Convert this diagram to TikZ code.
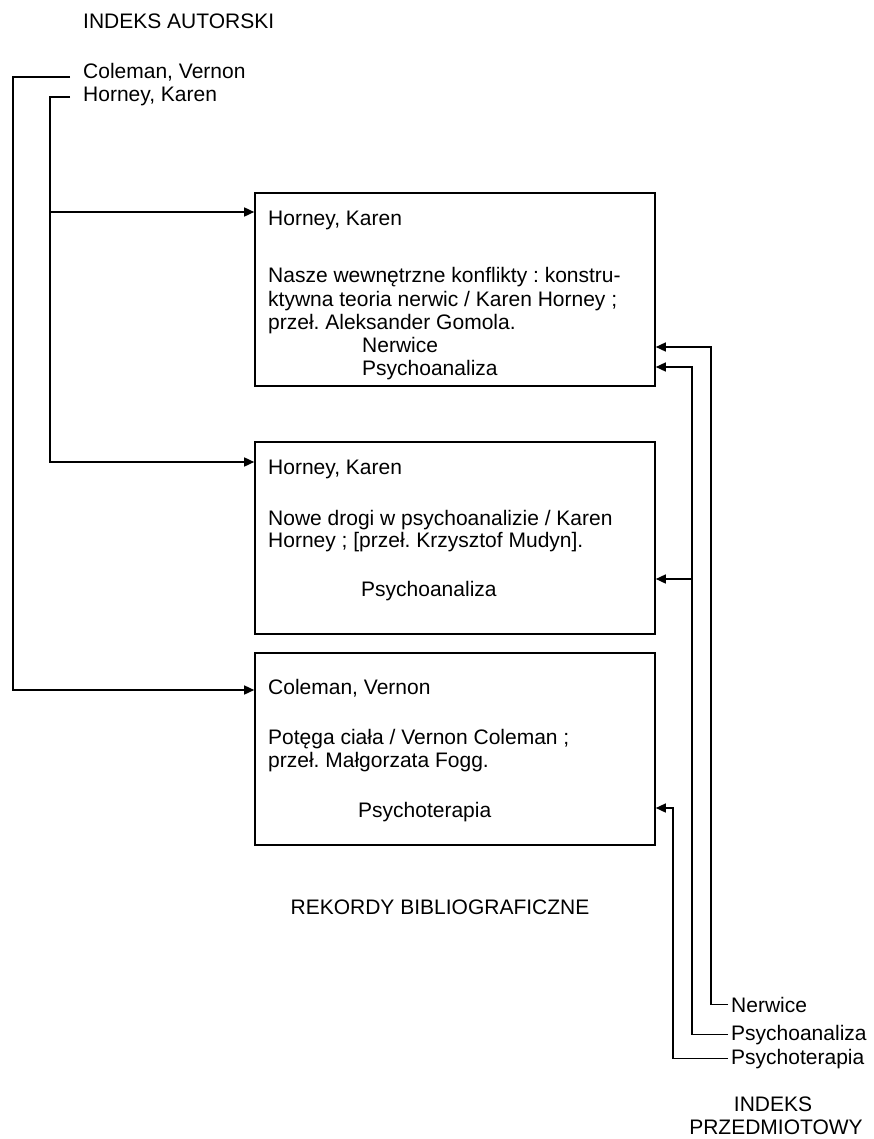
\documentclass[tikz,border=0pt]{standalone}
\usepackage{fontspec}
\setmainfont{Liberation Sans}
\usetikzlibrary{arrows.meta}
\frenchspacing
\tikzset{
  txt/.style={anchor=base west, inner sep=0pt, font=\fontsize{21}{23}\selectfont},
  ctxt/.style={anchor=base, inner sep=0pt, font=\fontsize{21}{23}\selectfont},
  recbox/.style={draw, line width=1.6pt, inner sep=0pt, minimum width=400pt},
  conn/.style={line width=1.5pt},
  arr/.style={conn, -{Triangle[length=10pt,width=9pt]}}
}
\begin{document}
\begin{tikzpicture}[x=1pt,y=-1pt]
\useasboundingbox (0,0) rectangle (873,1139);
% author index
\node[txt] (ia) at (83,29) {INDEKS AUTORSKI};
\node[txt] (ac) at (83,79) {Coleman, Vernon};
\node[txt] (ah) at (83,102) {Horney, Karen};
% record boxes
\node[recbox, minimum height=193pt] (b1) at (455,289.5) {};
\node[recbox, minimum height=192pt] (b2) at (455,538) {};
\node[recbox, minimum height=192pt] (b3) at (455,749) {};
% box 1 text
\node[txt] (b1a) at (268,226) {Horney, Karen};
\node[txt] (b1b) at (268,283) {Nasze wewnętrzne konflikty : konstru-};
\node[txt] (b1c) at (268,306) {ktywna teoria nerwic / Karen Horney ;};
\node[txt] (b1d) at (268,329) {przeł. Aleksander Gomola.};
\node[txt] (b1e) at (362,352) {Nerwice};
\node[txt] (b1f) at (362,375) {Psychoanaliza};
% box 2 text
\node[txt] (b2a) at (268,474) {Horney, Karen};
\node[txt] (b2b) at (268,525) {Nowe drogi w psychoanalizie / Karen};
\node[txt] (b2c) at (268,547) {Horney ; [przeł. Krzysztof Mudyn].};
\node[txt] (b2d) at (361,596) {Psychoanaliza};
% box 3 text
\node[txt] (b3a) at (268,694) {Coleman, Vernon};
\node[txt] (b3b) at (268,744) {Potęga ciała / Vernon Coleman ;};
\node[txt] (b3c) at (268,767) {przeł. Małgorzata Fogg.};
\node[txt] (b3d) at (358,817) {Psychoterapia};
% label
\node[ctxt] (rb) at (440,914) {REKORDY BIBLIOGRAFICZNE};
% subject index
\node[txt] (tn) at (731,1012) {Nerwice};
\node[txt] (tp) at (731,1040) {Psychoanaliza};
\node[txt] (tt) at (731,1064) {Psychoterapia};
\node[ctxt] (ip1) at (773,1111) {INDEKS};
\node[ctxt] (ip2) at (776,1134) {PRZEDMIOTOWY};
% author connectors
\coordinate (cA) at (70,77);
\coordinate (cB) at (13,690);
\draw[arr] (cA) -| (cB) -- (cB -| b3.west);
\coordinate (hA) at (70,97);
\coordinate (hB) at (50,462);
\draw[arr] (hA) -| (hB) -- (hB -| b2.west);
\coordinate (hC) at (50,212);
\draw[arr] (hC) -- (hC -| b1.west);
% subject connectors
\coordinate (nV) at (711,347);
\draw[arr] ([xshift=-3pt]tn.west) -| (nV) -- (nV -| b1.east);
\coordinate (pV) at (692,367);
\draw[arr] ([xshift=-3pt]tp.west) -| (pV) -- (pV -| b1.east);
\coordinate (pV2) at (692,579);
\draw[arr] (pV2) -- (pV2 -| b2.east);
\coordinate (tV) at (673,808);
\draw[arr] ([xshift=-3pt]tt.west) -| (tV) -- (tV -| b3.east);
\end{tikzpicture}
\end{document}
